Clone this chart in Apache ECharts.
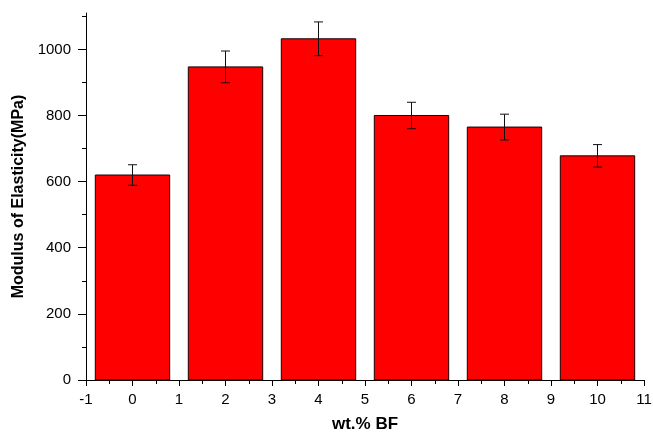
<!DOCTYPE html>
<html>
<head>
<meta charset="utf-8">
<script src="https://cdn.jsdelivr.net/npm/echarts@6/dist/echarts.min.js"></script>
<style>
html,body{margin:0;padding:0;background:#fff;}
#chart{width:653px;height:432px;}
</style>
</head>
<body>
<div id="chart"></div>
<script>
// Data
const categories = [0, 2, 4, 6, 8, 10];           // wt.% BF
const modulus = [620, 947, 1032, 800, 765, 678];  // MPa
const errors = [31, 48, 51, 40, 39, 34];          // ± MPa
const yMajorTicks = [0, 200, 400, 600, 800, 1000];
const yMinorTicks = [100, 300, 500, 700, 900, 1100];

const barData = categories.map((c, i) => [c, modulus[i]]);
const errData = categories.map((c, i) => [c, modulus[i] - errors[i], modulus[i] + errors[i]]);

const FONT = '"Liberation Sans", Arial, sans-serif';
const chart = echarts.init(document.getElementById('chart'), null, {renderer: 'canvas'});

chart.setOption({
  backgroundColor: '#ffffff',
  animation: false,
  grid: {left: 86, right: 9, top: 13, bottom: 52, containLabel: false, outerBoundsMode: 'none'},
  xAxis: {
    type: 'value',
    min: -1, max: 11, interval: 1,
    name: 'wt.% BF',
    nameLocation: 'middle',
    nameGap: 36,
    nameTextStyle: {fontFamily: FONT, fontWeight: 'bold', fontSize: 17, color: '#000'},
    axisLine: {show: true, onZero: false, lineStyle: {color: '#000', width: 1}},
    axisTick: {show: true, length: 6, lineStyle: {color: '#000', width: 1}},
    minorTick: {show: true, splitNumber: 2, length: 4, lineStyle: {color: '#000', width: 1}},
    splitLine: {show: false},
    axisLabel: {fontFamily: FONT, fontSize: 15, color: '#000', margin: 12}
  },
  yAxis: [{
    type: 'value',
    min: 0, max: 1110,
    position: 'left',
    name: 'Modulus of Elasticity(MPa)',
    nameLocation: 'middle',
    nameGap: 58,
    nameTextStyle: {fontFamily: FONT, fontWeight: 'bold', fontSize: 16, color: '#000'},
    axisLine: {show: true, onZero: false, lineStyle: {color: '#000', width: 1}},
    axisTick: {show: true, length: 8, customValues: yMajorTicks, lineStyle: {color: '#000', width: 1}},
    splitLine: {show: false},
    axisLabel: {fontFamily: FONT, fontSize: 15, color: '#000', margin: 15,
      customValues: yMajorTicks, formatter: function (v) { return String(v); }}
  }, {
    type: 'value',
    min: 0, max: 1110,
    position: 'left',
    axisLine: {show: false, onZero: false},
    axisTick: {show: true, length: 4, customValues: yMinorTicks, lineStyle: {color: '#000', width: 1}},
    axisLabel: {show: false},
    splitLine: {show: false}
  }],
  series: [{
    type: 'custom',
    name: 'bars',
    xAxisIndex: 0, yAxisIndex: 0,
    data: barData,
    encode: {x: 0, y: 1},
    renderItem: function (params, api) {
      const x = api.value(0), y = api.value(1);
      const p0 = api.coord([x - 0.8, y]);
      const p1 = api.coord([x + 0.8, 0]);
      return {
        type: 'rect',
        shape: {x: p0[0], y: p0[1], width: p1[0] - p0[0], height: p1[1] - p0[1]},
        style: {fill: '#ff0000', stroke: '#1a0000', lineWidth: 1}
      };
    },
    z: 2
  }, {
    type: 'custom',
    name: 'errors',
    xAxisIndex: 0, yAxisIndex: 0,
    data: errData,
    encode: {x: 0, y: [1, 2]},
    renderItem: function (params, api) {
      const x = api.value(0);
      const lo = api.coord([x, api.value(1)]);
      const hi = api.coord([x, api.value(2)]);
      const hw = 4.5;
      const st = {stroke: '#111', lineWidth: 1};
      return {
        type: 'group',
        children: [
          {type: 'line', shape: {x1: hi[0], y1: hi[1], x2: lo[0], y2: lo[1]}, style: st},
          {type: 'line', shape: {x1: hi[0] - hw, y1: hi[1], x2: hi[0] + hw, y2: hi[1]}, style: st},
          {type: 'line', shape: {x1: lo[0] - hw, y1: lo[1], x2: lo[0] + hw, y2: lo[1]}, style: st}
        ]
      };
    },
    z: 3
  }]
});
</script>
</body>
</html>
